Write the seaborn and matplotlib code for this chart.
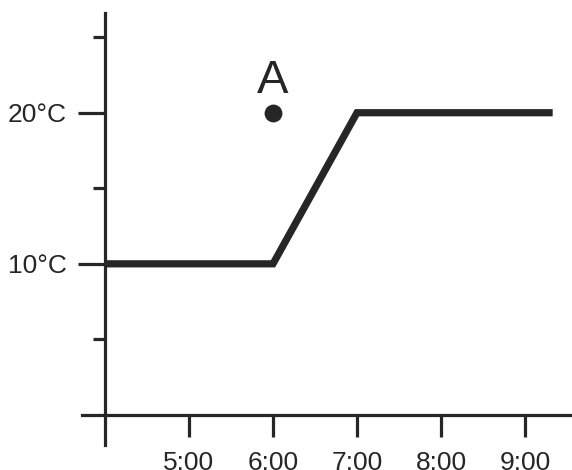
import matplotlib
matplotlib.use("Agg")
import matplotlib.pyplot as plt
import seaborn as sns
import pandas as pd
from matplotlib.ticker import FixedLocator

hours = [4.0, 6.0, 7.0, 9.33]
temps = [10, 10, 20, 20]
point_hour = [6.0]
point_temp = [20]
point_label = "A"
x_ticks = [5, 6, 7, 8, 9]
x_labels = ["5:00", "6:00", "7:00", "8:00", "9:00"]
y_major = [10, 20]
y_labels = ["10°C", "20°C"]
y_minor = [5, 15, 25]

sns.set_style("ticks")
plt.rcParams["font.family"] = ["Liberation Sans", "DejaVu Sans"]
ink = "#262626"

W, H = 572, 470
fig = plt.figure(figsize=(W / 100, H / 100), dpi=100)
left_px, right_px, top_px, bottom_px = 82, 572, 13, 445
ax = fig.add_axes([left_px / W, (H - bottom_px) / H, (right_px - left_px) / W, (bottom_px - top_px) / H])

df = pd.DataFrame({"h": hours, "t": temps})
sns.lineplot(data=df, x="h", y="t", ax=ax, color=ink, linewidth=5.2,
             sort=False, estimator=None, solid_joinstyle="miter", solid_capstyle="butt")
sns.scatterplot(x=point_hour, y=point_temp, ax=ax, color=ink, s=165, linewidth=0, zorder=5)
ax.annotate(point_label, (point_hour[0], point_temp[0]), xytext=(0, 7), textcoords="offset points",
            ha="center", va="bottom", fontsize=34, color=ink)

ax.set_xlim(3.726, 9.56)
ax.set_ylim(-1.99, 26.6)
for s in ["top", "right"]:
    ax.spines[s].set_visible(False)
ax.spines["left"].set_position(("data", 4))
ax.spines["bottom"].set_position(("data", 0))
for s in ["left", "bottom"]:
    ax.spines[s].set_linewidth(2.3)
    ax.spines[s].set_color(ink)

ax.set_xticks(x_ticks)
ax.set_xticklabels(x_labels)
ax.set_yticks(y_major)
ax.set_yticklabels(y_labels)
ax.yaxis.set_minor_locator(FixedLocator(y_minor))
ax.tick_params(axis="x", which="major", direction="out", length=16, width=2.3, color=ink,
               labelsize=19, labelcolor=ink, pad=10)
ax.tick_params(axis="y", which="major", direction="out", length=19.5, width=2.3, color=ink,
               labelsize=19, labelcolor=ink, pad=8)
ax.tick_params(axis="y", which="minor", direction="out", length=9, width=2.3, color=ink)
ax.set_xlabel("")
ax.set_ylabel("")

fig.savefig("out.png", dpi=100)
